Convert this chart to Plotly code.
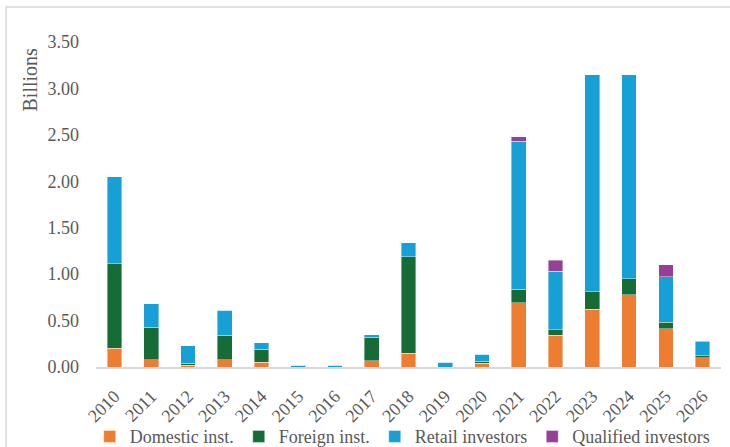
import plotly.graph_objects as go

# Issuance by investor type, in billions
years = [str(y) for y in range(2010, 2027)]
domestic_inst = [0.20, 0.08, 0.02, 0.08, 0.05, 0.00, 0.00, 0.07, 0.15, 0.00,
                 0.04, 0.69, 0.34, 0.62, 0.78, 0.41, 0.10]
foreign_inst = [0.91, 0.35, 0.02, 0.26, 0.14, 0.00, 0.00, 0.25, 1.04, 0.00,
                0.02, 0.15, 0.06, 0.19, 0.17, 0.07, 0.02]
retail_investors = [0.94, 0.25, 0.19, 0.27, 0.07, 0.02, 0.02, 0.03, 0.15, 0.05,
                    0.08, 1.59, 0.63, 2.34, 2.20, 0.49, 0.15]
qualified_investors = [0.00, 0.00, 0.00, 0.00, 0.00, 0.00, 0.00, 0.00, 0.00, 0.00,
                       0.00, 0.05, 0.12, 0.00, 0.00, 0.13, 0.01]

series = [
    ("Domestic inst.", domestic_inst, "#ED7D31"),
    ("Foreign inst.", foreign_inst, "#166C37"),
    ("Retail investors", retail_investors, "#16A0D6"),
    ("Qualified investors", qualified_investors, "#953F95"),
]

FONT = "Liberation Serif, Times New Roman, serif"
GREY = "#595959"

fig = go.Figure()
for name, vals, color in series:
    fig.add_trace(go.Bar(
        x=years, y=vals, name=name,
        marker=dict(color=color, line=dict(color="rgba(255,255,255,0.5)", width=0.8)),
    ))

fig.update_layout(
    barmode="stack",
    bargap=0.6,
    width=730, height=447,
    margin=dict(l=96, r=9, t=42, b=80, autoexpand=False),
    paper_bgcolor="white",
    plot_bgcolor="white",
    font=dict(family=FONT, size=18, color=GREY),
    showlegend=True,
    legend=dict(
        orientation="h", x=0.49, xanchor="center", y=-0.2145, yanchor="middle",
        font=dict(family=FONT, size=18, color=GREY),
        bgcolor="rgba(0,0,0,0)",
        itemwidth=30, traceorder="normal",
    ),
    xaxis=dict(
        type="category", tickangle=-45, showgrid=False, automargin=False,
        showline=True, linecolor="#D9D9D9", linewidth=1.5,
        ticks="", ticklabelstandoff=10,
        tickfont=dict(family=FONT, size=18, color=GREY),
    ),
    yaxis=dict(
        range=[0, 3.5], dtick=0.5, tickformat=".2f", automargin=False,
        showgrid=False, zeroline=False, showline=False,
        ticks="", ticklabelstandoff=16,
        tickfont=dict(family=FONT, size=18, color=GREY),
    ),
    annotations=[dict(
        text="Billions", xref="paper", yref="paper",
        x=-0.1056, y=0.8846, xanchor="center", yanchor="middle",
        textangle=-90, showarrow=False,
        font=dict(family=FONT, size=20, color=GREY),
    )],
    shapes=[dict(
        type="rect", xref="paper", yref="paper",
        x0=-0.144, x1=1.03, y0=-0.29, y1=1.1077,
        line=dict(color="#D9D9D9", width=1.5), layer="below",
    )],
)

fig.write_html("out.html")
